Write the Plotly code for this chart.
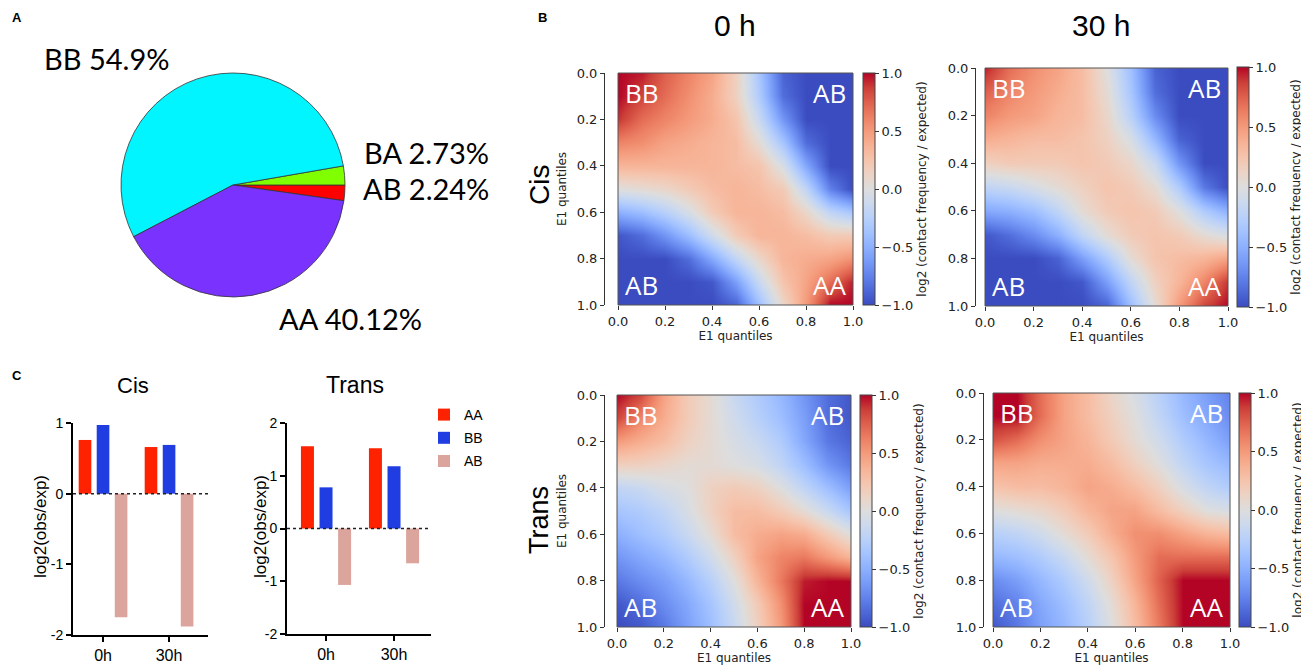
import plotly.graph_objects as go

W, H = 1301, 657      # figure size; page body adds an 8px margin
OFF = 8

# ---------------- data ----------------
pie_labels = ["AB", "BA", "BB", "AA"]
pie_values = [2.24, 2.73, 54.9, 40.12]
pie_texts = ["AB 2.24%", "BA 2.73%", "BB 54.9%", "AA 40.12%"]
pie_colors = ["#FF0000", "#7FFF00", "#00F5FF", "#7A32FF"]

timepoints = ["0h", "30h"]
bar_groups = ["AA", "BB", "AB"]
bar_colors = ["#FF2200", "#1F3DE0", "#DBA59E"]
cis_AA = [0.76, 0.66]
cis_BB = [0.97, 0.69]
cis_AB = [-1.75, -1.88]
trans_AA = [1.56, 1.52]
trans_BB = [0.78, 1.18]
trans_AB = [-1.07, -0.66]
cis_yticks = [-2, -1, 0, 1]
cis_yticklabels = ["-2", "-1", "0", "1"]
trans_yticks = [-2, -1, 0, 1, 2]
trans_yticklabels = ["-2", "-1", "0", "1", "2"]

quantiles = [0.0, 0.1, 0.2, 0.3, 0.4, 0.5, 0.6, 0.7, 0.8, 0.9, 1.0]
hm_ticks = [0.0, 0.2, 0.4, 0.6, 0.8, 1.0]
cb_ticks = [-1.0, -0.5, 0.0, 0.5, 1.0]

cis_0h = [
    [1.0, 0.95, 0.75, 0.6, 0.45, 0.15, -0.35, -0.9, -1, -1, -1],
    [1.0, 0.85, 0.7, 0.55, 0.4, 0.15, -0.3, -0.85, -1, -1, -1],
    [0.9, 0.7, 0.6, 0.5, 0.4, 0.25, -0.15, -0.65, -1, -1, -1],
    [0.6, 0.55, 0.45, 0.4, 0.35, 0.3, 0.05, -0.35, -0.85, -1, -1],
    [0.35, 0.35, 0.35, 0.35, 0.35, 0.3, 0.25, -0.05, -0.55, -1, -1],
    [0.0, 0.05, 0.1, 0.2, 0.3, 0.35, 0.3, 0.2, -0.2, -0.75, -1],
    [-0.5, -0.4, -0.25, -0.05, 0.2, 0.35, 0.35, 0.3, 0.1, -0.2, -0.35],
    [-0.95, -0.85, -0.65, -0.4, -0.1, 0.2, 0.35, 0.35, 0.3, 0.2, 0.2],
    [-1, -1, -1, -0.85, -0.55, -0.2, 0.1, 0.35, 0.4, 0.45, 0.55],
    [-1, -1, -1, -1, -0.95, -0.6, -0.15, 0.25, 0.45, 0.7, 0.95],
    [-1, -1, -1, -1, -1, -0.9, -0.4, 0.1, 0.5, 1.0, 1.0],
]
cis_30h = [
    [0.95, 0.7, 0.55, 0.45, 0.3, 0.0, -0.4, -0.9, -1, -1, -1],
    [0.75, 0.6, 0.5, 0.4, 0.3, 0.05, -0.35, -0.85, -1, -1, -1],
    [0.6, 0.5, 0.45, 0.35, 0.3, 0.1, -0.25, -0.7, -1, -1, -1],
    [0.4, 0.35, 0.3, 0.3, 0.25, 0.15, -0.05, -0.45, -0.9, -1, -1],
    [0.15, 0.2, 0.2, 0.2, 0.25, 0.2, 0.1, -0.15, -0.65, -1, -1],
    [-0.2, -0.15, -0.05, 0.05, 0.15, 0.25, 0.2, 0.05, -0.3, -0.8, -1],
    [-0.55, -0.5, -0.4, -0.2, 0.05, 0.2, 0.25, 0.2, 0.0, -0.3, -0.5],
    [-0.95, -0.85, -0.7, -0.5, -0.2, 0.05, 0.2, 0.25, 0.2, 0.05, -0.05],
    [-1, -1, -1, -0.9, -0.6, -0.3, 0.05, 0.25, 0.3, 0.35, 0.45],
    [-1, -1, -1, -1, -0.95, -0.6, -0.2, 0.15, 0.35, 0.6, 0.9],
    [-1, -1, -1, -1, -1, -0.9, -0.4, 0.05, 0.5, 0.85, 1.0],
]
trans_0h = [
    [1.0, 0.85, 0.45, 0.2, 0.05, -0.15, -0.3, -0.45, -0.65, -0.85, -0.95],
    [0.85, 0.6, 0.4, 0.2, 0.05, -0.1, -0.25, -0.4, -0.6, -0.85, -0.95],
    [0.5, 0.4, 0.3, 0.15, 0.05, -0.05, -0.15, -0.3, -0.55, -0.8, -0.9],
    [0.15, 0.15, 0.1, 0.05, 0.05, 0.0, -0.05, -0.2, -0.4, -0.65, -0.8],
    [-0.2, -0.15, -0.05, 0.0, 0.15, 0.2, 0.15, 0.0, -0.2, -0.4, -0.6],
    [-0.35, -0.3, -0.2, -0.05, 0.15, 0.3, 0.3, 0.2, 0.05, -0.15, -0.35],
    [-0.5, -0.4, -0.3, -0.15, 0.05, 0.3, 0.4, 0.45, 0.4, 0.2, 0.0],
    [-0.65, -0.55, -0.45, -0.3, -0.1, 0.15, 0.45, 0.6, 0.65, 0.5, 0.35],
    [-0.8, -0.7, -0.6, -0.45, -0.25, 0.0, 0.35, 0.65, 0.95, 1.0, 1.0],
    [-0.95, -0.85, -0.7, -0.55, -0.35, -0.1, 0.2, 0.55, 1.0, 1.0, 1.0],
    [-1, -0.95, -0.8, -0.6, -0.4, -0.15, 0.15, 0.5, 1.0, 1.0, 1.0],
]
trans_30h = [
    [1.0, 1.0, 0.7, 0.45, 0.3, 0.1, -0.05, -0.25, -0.45, -0.6, -0.75],
    [1.0, 1.0, 0.7, 0.45, 0.3, 0.15, 0.0, -0.2, -0.4, -0.55, -0.7],
    [0.8, 0.7, 0.55, 0.45, 0.35, 0.2, 0.05, -0.1, -0.3, -0.45, -0.6],
    [0.45, 0.45, 0.4, 0.4, 0.4, 0.3, 0.15, 0.0, -0.2, -0.35, -0.45],
    [0.25, 0.3, 0.3, 0.35, 0.45, 0.4, 0.3, 0.15, -0.05, -0.2, -0.3],
    [0.0, 0.05, 0.1, 0.2, 0.35, 0.45, 0.45, 0.3, 0.15, 0.0, -0.05],
    [-0.25, -0.2, -0.1, 0.05, 0.2, 0.4, 0.55, 0.55, 0.45, 0.35, 0.3],
    [-0.45, -0.4, -0.3, -0.15, 0.05, 0.25, 0.5, 0.7, 0.7, 0.7, 0.7],
    [-0.7, -0.6, -0.45, -0.3, -0.1, 0.15, 0.45, 0.75, 1.0, 1.0, 1.0],
    [-0.85, -0.75, -0.55, -0.4, -0.2, 0.05, 0.35, 0.7, 1.0, 1.0, 1.0],
    [-0.95, -0.8, -0.6, -0.45, -0.25, 0.0, 0.3, 0.65, 1.0, 1.0, 1.0],
]

coolwarm = [
    [0.0, "rgb(59,76,192)"], [0.0625, "rgb(77,104,215)"], [0.125, "rgb(98,130,234)"],
    [0.1875, "rgb(119,154,247)"], [0.25, "rgb(141,176,254)"], [0.3125, "rgb(163,194,255)"],
    [0.375, "rgb(184,208,249)"], [0.4375, "rgb(204,217,238)"], [0.5, "rgb(221,221,221)"],
    [0.5625, "rgb(236,211,197)"], [0.625, "rgb(245,196,173)"], [0.6875, "rgb(247,177,148)"],
    [0.75, "rgb(244,154,123)"], [0.8125, "rgb(236,127,99)"], [0.875, "rgb(222,96,77)"],
    [0.9375, "rgb(203,62,56)"], [1.0, "rgb(180,4,38)"],
]

def px(x):
    return (x - OFF) / W

def py(y):
    return 1 - (y - OFF) / H

def ann(text, x, y, size, family="Liberation Sans", angle=0, color="black", bold=False):
    return dict(text=("<b>%s</b>" % text) if bold else text, x=px(x), y=py(y),
                xref="paper", yref="paper", xanchor="center", yanchor="middle",
                showarrow=False, textangle=angle,
                font=dict(family=family, size=size, color=color))

fig = go.Figure()
annotations = []
shapes = []

# ---------------- Panel A: pie ----------------
fig.add_trace(go.Pie(
    labels=pie_labels, values=pie_values, sort=False, direction="counterclockwise",
    rotation=90, marker=dict(colors=pie_colors, line=dict(color="#333333", width=0.8)),
    textinfo="none", hoverinfo="label+percent", showlegend=False,
    domain=dict(x=[px(121), px(345)], y=[py(297), py(73)]),
))
pie_lab_pos = [(426, 188), (426, 152), (106, 59), (350, 318)]
for t, (lx, ly) in zip(pie_texts, pie_lab_pos):
    annotations.append(ann(t, lx, ly, 29, family="Lato"))

# ---------------- Panel C: bars ----------------
cis_vals = [cis_AA, cis_BB, cis_AB]
trans_vals = [trans_AA, trans_BB, trans_AB]
for g, c, v in zip(bar_groups, bar_colors, cis_vals):
    fig.add_trace(go.Bar(x=timepoints, y=v, name=g, marker=dict(color=c, line=dict(width=0)),
                         xaxis="x", yaxis="y", showlegend=True, legendgroup=g))
for g, c, v in zip(bar_groups, bar_colors, trans_vals):
    fig.add_trace(go.Bar(x=timepoints, y=v, name=g, marker=dict(color=c, line=dict(width=0)),
                         xaxis="x2", yaxis="y2", showlegend=False, legendgroup=g))

bar_font = "Liberation Sans"
common_bx = dict(type="category", showline=True, linecolor="black", linewidth=2,
                 ticks="outside", ticklen=5, tickwidth=2, tickcolor="black",
                 tickfont=dict(family=bar_font, size=16, color="black"), showgrid=False, zeroline=False)
common_by = dict(showline=True, linecolor="black", linewidth=2, ticks="outside", ticklen=5,
                 tickwidth=2, tickcolor="black", tickfont=dict(family=bar_font, size=14, color="black"),
                 showgrid=False, zeroline=False)

layout_axes = {}
layout_axes["xaxis"] = dict(common_bx, domain=[px(73), px(208)], range=[-0.455, 1.59], anchor="y")
layout_axes["yaxis"] = dict(common_by, domain=[py(635), py(423)], range=[-2, 1], anchor="x",
                            tickvals=cis_yticks, ticktext=cis_yticklabels)
layout_axes["xaxis2"] = dict(common_bx, domain=[px(287), px(431)], range=[-0.574, 1.544], anchor="y2")
layout_axes["yaxis2"] = dict(common_by, domain=[py(634), py(423)], range=[-2, 2], anchor="x2",
                             tickvals=trans_yticks, ticktext=trans_yticklabels)

for xa, ya in [("x", "y"), ("x2", "y2")]:
    shapes.append(dict(type="line", xref=xa + " domain", yref=ya, x0=0, x1=1, y0=0, y1=0,
                       line=dict(color="#222222", width=1.5, dash="dot")))

annotations += [
    ann("Cis", 133, 385, 22),
    ann("Trans", 355, 385, 23),
    ann("log2(obs/exp)", 40, 527, 17, angle=-90),
    ann("log2(obs/exp)", 260, 527, 17, angle=-90),
]

# ---------------- Panel B: heatmaps ----------------
hm_font = "DejaVu Sans"
heatmaps = [
    (cis_0h, (618, 853, 73, 305), 604, (863, 73, 305)),
    (cis_30h, (985, 1228, 68, 306), 975, (1237, 67, 307)),
    (trans_0h, (617, 851, 395, 627), 604, (860, 395, 627)),
    (trans_30h, (993, 1230, 393, 627), 983, (1239, 393, 627)),
]
for i, (z, (x0, x1, y0, y1), spine, (cbx, cby0, cby1)) in enumerate(heatmaps):
    n = i + 3
    xa, ya = "x%d" % n, "y%d" % n
    fig.add_trace(go.Heatmap(
        z=z, x=quantiles, y=quantiles, colorscale=coolwarm, zmin=-1, zmax=1, zsmooth="best",
        xaxis=xa, yaxis=ya,
        colorbar=dict(x=px(cbx), xanchor="left", thickness=12, thicknessmode="pixels",
                      len=(cby1 - cby0) / H, lenmode="fraction", y=py(cby0), yanchor="top",
                      ypad=0, xpad=0, outlinewidth=1, outlinecolor="#444444",
                      tickvals=cb_ticks, tickformat=".1f", ticks="outside", ticklen=4,
                      tickcolor="#333333",
                      tickfont=dict(family=hm_font, size=13, color="#222222"),
                      title=dict(text="log2 (contact frequency / expected)", side="right",
                                 font=dict(family=hm_font, size=12, color="#222222"))),
    ))
    layout_axes["xaxis%d" % n] = dict(domain=[px(x0), px(x1)], range=[0, 1], anchor=ya,
                                      tickvals=hm_ticks, tickformat=".1f", ticks="outside",
                                      ticklen=4, tickcolor="#333333", showline=False,
                                      showgrid=False, zeroline=False,
                                      tickfont=dict(family=hm_font, size=13, color="#222222"),
                                      title=dict(text="E1 quantiles", standoff=3,
                                                 font=dict(family=hm_font, size=12, color="#222222")))
    ydict = dict(domain=[py(y1), py(y0)], range=[1, 0], anchor="free", position=px(spine),
                 tickvals=hm_ticks, tickformat=".1f", ticks="outside", ticklen=4,
                 tickcolor="#333333", showline=True, linecolor="#333333", linewidth=1,
                 showgrid=False, zeroline=False,
                 tickfont=dict(family=hm_font, size=13, color="#222222"))
    if n in (3, 5):
        ydict["title"] = dict(text="E1 quantiles", standoff=6,
                              font=dict(family=hm_font, size=12, color="#222222"))
    layout_axes["yaxis%d" % n] = ydict
    shapes.append(dict(type="rect", xref=xa + " domain", yref=ya + " domain", x0=0, x1=1, y0=0, y1=1,
                       line=dict(color="#555555", width=1)))
    lab_font = dict(family="Open Sans", size=26, color="white")
    for t, ax_, ay_, xan, yan in [("BB", 0.02, 1.0, "left", "top"), ("AB", 0.98, 1.0, "right", "top"),
                                  ("AB", 0.02, 0.0, "left", "bottom"), ("AA", 0.98, 0.0, "right", "bottom")]:
        annotations.append(dict(text=t, x=ax_, y=ay_, xref=xa + " domain", yref=ya + " domain",
                                xanchor=xan, yanchor=yan, showarrow=False, font=lab_font))

annotations += [
    ann("0 h", 735, 25, 30),
    ann("30 h", 1101, 25, 30),
    ann("Cis", 539, 185, 28, angle=-90),
    ann("Trans", 539, 520, 27, angle=-90),
    ann("A", 17, 17, 13, bold=True),
    ann("B", 542, 17, 13, bold=True),
    ann("C", 17, 375, 13, bold=True),
]

fig.update_layout(
    width=W, height=H, margin=dict(l=0, r=0, t=0, b=0, pad=0, autoexpand=False),
    paper_bgcolor="white", plot_bgcolor="white",
    barmode="group", bargap=0.18, bargroupgap=0.3,
    legend=dict(x=px(424), y=py(399), xanchor="left", yanchor="top",
                font=dict(family=bar_font, size=14, color="black"),
                bgcolor="rgba(0,0,0,0)", itemwidth=30, tracegroupgap=2),
    annotations=annotations, shapes=shapes,
    **layout_axes,
)

fig.write_html("out.html")
